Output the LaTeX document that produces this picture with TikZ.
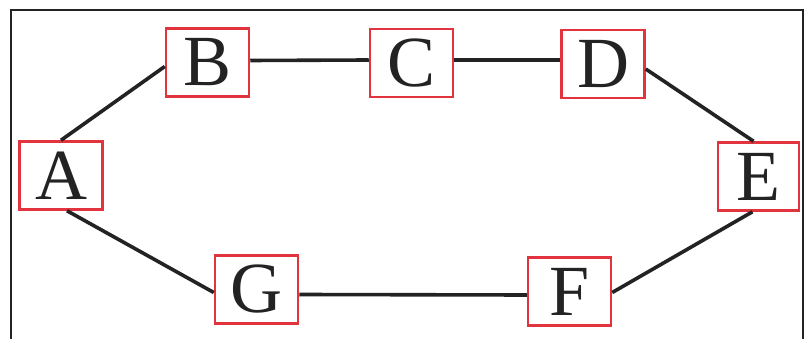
\documentclass[tikz,border=0pt]{standalone}
\usepackage{fontspec}
\setmainfont{Liberation Serif}
\usetikzlibrary{calc}
\definecolor{boxred}{RGB}{226,52,62}
\definecolor{ink}{RGB}{35,35,35}
\begin{document}
\begin{tikzpicture}[x=1pt,y=-1pt,
  vbox/.style={draw=boxred,line width=2.5pt,fill=white,minimum width=83pt,minimum height=68pt,inner sep=0pt,text=ink,font=\fontsize{72}{72}\selectfont},
  edge/.style={draw=ink,line width=3.6pt}]
\useasboundingbox (0,0) rectangle (809,339);
\draw[ink,line width=2.5pt] (11,345) -- (11,10) -- (803,10) -- (803,345);
\node[vbox] (A) at (61,175.5) {A};
\node[vbox] (B) at (207.5,62.5) {B};
\node[vbox] (C) at (411.5,63) {C};
\node[vbox] (D) at (603,64) {D};
\node[vbox,minimum width=81pt] (E) at (758.5,176.5) {E};
\node[vbox] (F) at (569.5,291.5) {F};
\node[vbox] (G) at (256.5,289.5) {G};
\draw[edge] (A.north) -- ($(B.west)+(0,4)$);
\draw[edge] ($(B.east)+(0,-2)$) -- ($(C.west)+(0,-3)$);
\draw[edge] ($(C.east)+(0,-3)$) -- ($(D.west)+(0,-4)$);
\draw[edge] ($(D.east)+(0,5)$) -- ($(E.north)+(-5,0)$);
\draw[edge] ($(E.south)+(-6,0)$) -- ($(F.east)+(0,1)$);
\draw[edge] ($(G.east)+(0,5)$) -- ($(F.west)+(0,3.5)$);
\draw[edge] ($(A.south)+(6,0)$) -- ($(G.west)+(0,3)$);
\end{tikzpicture}
\end{document}
